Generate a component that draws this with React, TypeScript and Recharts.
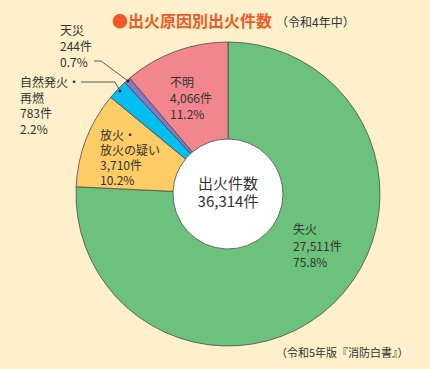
import { PieChart, Pie, Cell } from 'recharts';

const categories = ['失火', '放火・放火の疑い', '自然発火・再燃', '天災', '不明'];
const counts = [27511, 3710, 783, 244, 4066];
const percents = ['75.8%', '10.2%', '2.2%', '0.7%', '11.2%'];
const colors = ['#6cc27c', '#ffcc66', '#00bef0', '#8a76c6', '#f2868e'];
const totalLabel = '36,314件';

const FONT = '"Noto Sans CJK JP", "Noto Sans", sans-serif';

export default function App() {
  const data = categories.map((name, i) => ({ name, value: counts[i] }));

  return (
    <div style={styles.root}>
      <PieChart
        width={430}
        height={369}
        margin={{ top: 0, right: 0, bottom: 0, left: 0 }}
        style={{ position: 'absolute', left: 0, top: 0 }}
      >
        {/* white hole behind the donut */}
        <Pie
          data={[{ name: 'total', value: 1 }]}
          dataKey="value"
          cx={228}
          cy={194}
          outerRadius={56}
          fill="#ffffff"
          stroke="none"
          isAnimationActive={false}
        />
        <Pie
          data={data}
          dataKey="value"
          cx={228}
          cy={194}
          outerRadius={152}
          innerRadius={55}
          startAngle={90}
          endAngle={-270}
          stroke="#4a4a4a"
          strokeWidth={0.8}
          isAnimationActive={false}
          label={false}
          labelLine={false}
        >
          {data.map((d, i) => (
            <Cell key={d.name} fill={colors[i]} />
          ))}
        </Pie>
      </PieChart>

      {/* leader lines for the two thin slices */}
      <svg width={430} height={369} style={{ position: 'absolute', left: 0, top: 0, pointerEvents: 'none' }}>
        <polyline points="94,61 101,61 128,81" fill="none" stroke="#333" strokeWidth={0.8} />
        <circle cx={128} cy={81} r={1.5} fill="#222" />
        <polyline points="81,82 115,82 119,89" fill="none" stroke="#333" strokeWidth={0.8} />
        <circle cx={120} cy={91} r={1.5} fill="#222" />
      </svg>

      <div style={styles.title}>
        <span style={{ color: '#f05a28', fontWeight: 700, fontSize: 16 }}>●出火原因別出火件数</span>
        <span style={{ fontSize: 12, marginLeft: 4 }}>（令和4年中）</span>
      </div>

      <div style={{ ...styles.label, left: 60, top: 22 }}>
        天災<br />{counts[3]}件<br />{percents[3]}
      </div>
      <div style={{ ...styles.label, left: 20, top: 74, lineHeight: '15.5px' }}>
        自然発火・<br />再燃<br />{counts[2]}件<br />{percents[2]}
      </div>
      <div style={{ ...styles.label, left: 100, top: 127, lineHeight: '15px' }}>
        放火・<br />放火の疑い<br />3,710件<br />{percents[1]}
      </div>
      <div style={{ ...styles.label, left: 170, top: 74 }}>
        不明<br />4,066件<br />{percents[4]}
      </div>
      <div style={{ ...styles.label, left: 293, top: 221, lineHeight: '16.5px' }}>
        失火<br />27,511件<br />{percents[0]}
      </div>
      <div style={styles.center}>
        出火件数<br />{totalLabel}
      </div>
      <div style={styles.source}>（令和5年版『消防白書』）</div>
    </div>
  );
}

const styles: Record<string, React.CSSProperties> = {
  root: {
    position: 'absolute',
    left: 0,
    top: 0,
    width: 430,
    height: 369,
    background: '#fef0cb',
    fontFamily: FONT,
    color: '#333',
    overflow: 'hidden',
  },
  title: {
    position: 'absolute',
    left: 112,
    top: 9,
    whiteSpace: 'nowrap',
    lineHeight: '22px',
  },
  label: {
    position: 'absolute',
    fontSize: 12,
    lineHeight: '16px',
    whiteSpace: 'nowrap',
  },
  center: {
    position: 'absolute',
    left: 173,
    top: 174,
    width: 110,
    textAlign: 'center',
    fontSize: 15,
    lineHeight: '18px',
  },
  source: {
    position: 'absolute',
    left: 276,
    top: 344,
    fontSize: 11,
    whiteSpace: 'nowrap',
  },
};
